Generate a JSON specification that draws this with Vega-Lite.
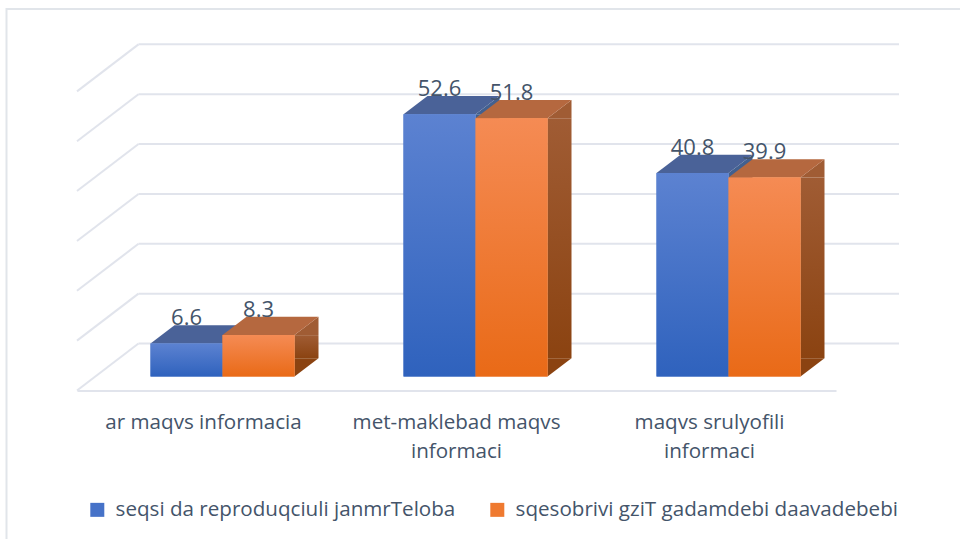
{
"$schema":"https://vega.github.io/schema/vega-lite/v6.json",
"width":759,"height":349,
"autosize":"none",
"padding":{"left":77,"top":27.5,"right":124,"bottom":162.5},
"background":"white",
"datasets":{
"bars":[
{"cat":"ar maqvs informacia","series":"seqsi da reproduqciuli janmrTeloba","value":6.6},
{"cat":"ar maqvs informacia","series":"sqesobrivi gziT gadamdebi daavadebebi","value":8.3},
{"cat":"met-maklebad maqvs informaci","series":"seqsi da reproduqciuli janmrTeloba","value":52.6},
{"cat":"met-maklebad maqvs informaci","series":"sqesobrivi gziT gadamdebi daavadebebi","value":51.8},
{"cat":"maqvs srulyofili informaci","series":"seqsi da reproduqciuli janmrTeloba","value":40.8},
{"cat":"maqvs srulyofili informaci","series":"sqesobrivi gziT gadamdebi daavadebebi","value":39.9}
],
"levels":[{"v":0},{"v":10},{"v":20},{"v":30},{"v":40},{"v":50},{"v":60}]
},
"layer":[
{"data":{"values":[{"a":1}]},
 "mark":{"type":"rect","fill":null,"stroke":"#e1e5ea","strokeWidth":2,"clip":false},
 "encoding":{"x":{"value":-70.5},"x2":{"value":900},"y":{"value":-18.5},"y2":{"value":530}}},
{"data":{"name":"levels"},
 "mark":{"type":"rule","stroke":"#e1e4ec","strokeWidth":2,"yOffset":-33},
 "encoding":{"y":{"field":"v","type":"quantitative","scale":{"domain":[0,70],"nice":false},"axis":null},"x":{"value":61.5},"x2":{"value":822}}},
{"data":{"name":"levels"},
 "mark":{"type":"point","shape":"M61.5,-33L0,14","size":4,"filled":false,"stroke":"#e1e4ec","strokeWidth":2,"opacity":1},
 "encoding":{"y":{"field":"v","type":"quantitative"},"x":{"value":0}}},
{"data":{"name":"bars"},
 "transform":[{"filter":"indexof(datum.series,'seqsi')==0"}],
 "mark":{"type":"bar","width":24,"xOffset":31,"y2Offset":-18.3,"fill":"#42608f"},
 "encoding":{
  "x":{"field":"cat","type":"nominal","sort":null,"scale":{"paddingInner":0.431,"paddingOuter":0.2155},
    "axis":{"title":null,"offset":14,"ticks":false,"domainColor":"#e1e4ec","domainWidth":2,"labelAngle":0,"labelPadding":32,"labelFont":"Open Sans","labelFontSize":20.6,"labelColor":"#44546a","labelLimit":400,"labelLineHeight":29,"labelBaseline":"middle",
    "labelExpr":"datum.label=='met-maklebad maqvs informaci'?['met-maklebad maqvs','informaci']:datum.label=='maqvs srulyofili informaci'?['maqvs srulyofili','informaci']:datum.label"}},
  "y":{"field":"value","type":"quantitative","stack":null},
  "y2":{"datum":0}
 }},
{"data":{"name":"bars"},
 "transform":[{"filter":"indexof(datum.series,'sqes')==0"}],
 "mark":{"type":"bar","width":24,"xOffset":103,"y2Offset":-18.3,
  "fill":{"gradient":"linear","x1":0,"y1":0,"x2":0,"y2":1,"stops":[{"offset":0,"color":"#a05c34"},{"offset":1,"color":"#8b4311"}]}},
 "encoding":{
  "x":{"field":"cat","type":"nominal","sort":null},
  "y":{"field":"value","type":"quantitative","stack":null},
  "y2":{"datum":0}
 }},
{"data":{"name":"bars"},
 "mark":{"type":"point","shape":"M36,0L60,-18.3L60,0Z","size":4,"filled":true,"opacity":1},
 "encoding":{
  "x":{"field":"cat","type":"nominal","sort":null},
  "xOffset":{"field":"series","type":"nominal","sort":null,"scale":{"range":[19,163]}},
  "y":{"field":"value","type":"quantitative"},
  "fill":{"condition":{"test":"indexof(datum.series,'seqsi')==0","value":"#42608f"},"value":"#a05c34"}
 }},
{"data":{"name":"bars"},
 "mark":{"type":"point","shape":"M36,-18.3L60,-18.3L36,0Z","size":4,"filled":true,"opacity":1},
 "encoding":{
  "x":{"field":"cat","type":"nominal","sort":null},
  "xOffset":{"field":"series","type":"nominal","sort":null},
  "y":{"datum":0,"type":"quantitative"},
  "fill":{"condition":{"test":"indexof(datum.series,'seqsi')==0","value":"#2c4f8c"},"value":"#8b4311"}
 }},
{"data":{"name":"bars"},
 "mark":{"type":"point","shape":"M-36,0L36,0L60,-18.3L-12,-18.3Z","size":4,"filled":true,"opacity":1},
 "encoding":{
  "x":{"field":"cat","type":"nominal","sort":null},
  "xOffset":{"field":"series","type":"nominal","sort":null},
  "y":{"field":"value","type":"quantitative"},
  "fill":{"condition":{"test":"indexof(datum.series,'seqsi')==0","value":"#4a6298"},"value":"#b5683f"}
 }},
{"data":{"name":"bars"},
 "mark":{"type":"bar","width":72},
 "encoding":{
  "x":{"field":"cat","type":"nominal","sort":null},
  "xOffset":{"field":"series","type":"nominal","sort":null},
  "y":{"field":"value","type":"quantitative","stack":null},
  "y2":{"datum":0},
  "fill":{"field":"series","type":"nominal","sort":null,
   "scale":{"range":["#4672c8","#ef7a30"]},
   "legend":{"title":null,"orient":"none","legendX":10,"legendY":472,"direction":"horizontal","columns":2,"symbolType":"square","symbolSize":196,"symbolStrokeWidth":0,"labelFont":"Open Sans","labelFontSize":20.6,"labelColor":"#44546a","labelLimit":500,"labelOffset":8,"columnPadding":31,"symbolOpacity":1,
   "encode":{"symbols":{"update":{"fill":[
     {"test":"indexof(datum.value,'seqsi')==0","value":{"gradient":"linear","x1":0,"y1":0,"x2":0,"y2":1,"stops":[{"offset":0,"color":"#5c82d1"},{"offset":1,"color":"#2f62bd"}]}},
     {"value":{"gradient":"linear","x1":0,"y1":0,"x2":0,"y2":1,"stops":[{"offset":0,"color":"#f58b54"},{"offset":1,"color":"#e96a17"}]}}]}}}}}
 }},
{"data":{"name":"bars"},
 "mark":{"type":"bar","width":72},
 "encoding":{
  "x":{"field":"cat","type":"nominal","sort":null},
  "xOffset":{"field":"series","type":"nominal","sort":null},
  "y":{"field":"value","type":"quantitative","stack":null},
  "y2":{"datum":0},
  "fill":{"condition":{"test":"indexof(datum.series,'seqsi')==0","value":{"gradient":"linear","x1":0,"y1":0,"x2":0,"y2":1,"stops":[{"offset":0,"color":"#5c82d1"},{"offset":1,"color":"#2f62bd"}]}},
   "value":{"gradient":"linear","x1":0,"y1":0,"x2":0,"y2":1,"stops":[{"offset":0,"color":"#f58b54"},{"offset":1,"color":"#e96a17"}]}}
 }},
{"data":{"name":"bars"},
 "mark":{"type":"text","font":"Open Sans","fontSize":22,"color":"#44546a","baseline":"middle","align":"center","yOffset":-25.5},
 "encoding":{
  "x":{"field":"cat","type":"nominal","sort":null},
  "xOffset":{"field":"series","type":"nominal","sort":null},
  "y":{"field":"value","type":"quantitative"},
  "text":{"field":"value","type":"quantitative","format":".1f"}
 }}
],
"resolve":{"scale":{"fill":"independent"}},
"config":{"view":{"stroke":null}}
}
